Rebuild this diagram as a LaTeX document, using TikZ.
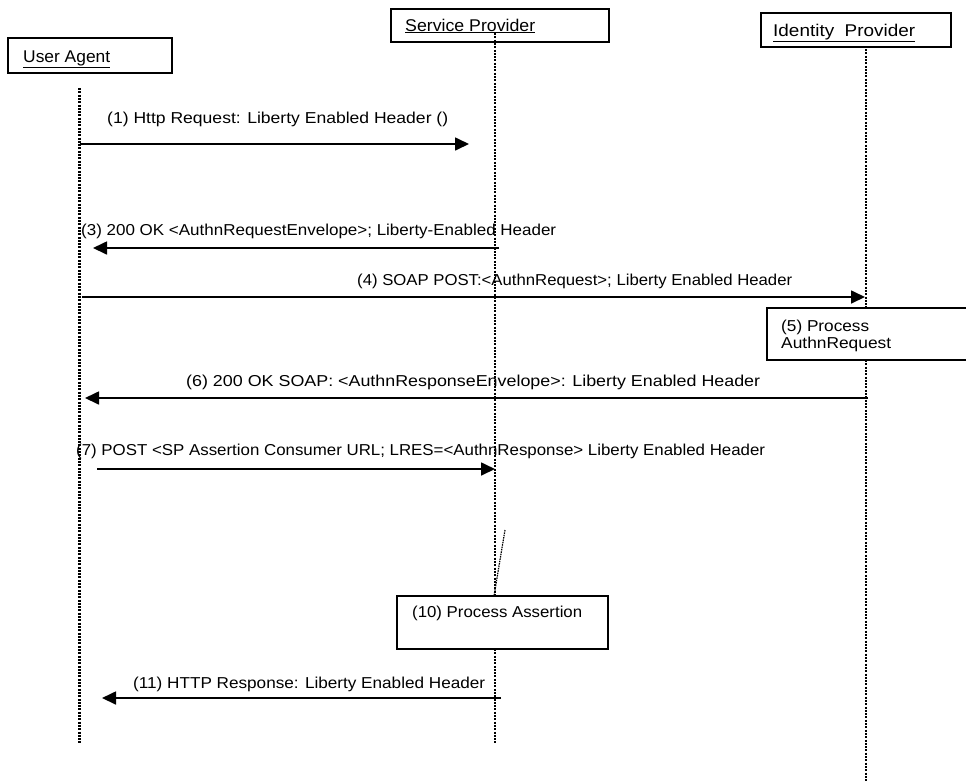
\documentclass[tikz,border=0pt]{standalone}
\usepackage{fontspec}
\usepackage{graphicx}
\setmainfont{Liberation Sans}
\usetikzlibrary{arrows.meta}
\newcommand\fw[2]{\resizebox{#1pt}{\height}{#2}}
\tikzset{
  msg/.style={font=\fontsize{15.8}{17}\selectfont, inner sep=0pt, anchor=base west},
  actor/.style={font=\fontsize{17}{20}\selectfont, inner sep=0pt, anchor=base west},
  boxline/.style={draw=black, line width=1.5pt},
  life/.style={line width=2.1pt, dash pattern=on 2pt off 1.3pt},
  thinlife/.style={line width=1.2pt, dash pattern=on 1.5pt off 0.9pt},
  call/.style={line width=1.7pt, -{Triangle[length=14pt,width=13pt]}}
}
\begin{document}
\begin{tikzpicture}[x=1pt,y=-1pt]
\useasboundingbox (0,0) rectangle (966,780);
% actor boxes
\draw[boxline] (8,38) rectangle (172,73);
\draw[boxline] (391,9) rectangle (609,42);
\draw[boxline] (761,13) rectangle (951,47);
\node[actor] (ua) at (23,62) {\underline{\fw{87}{User Agent}}};
\node[actor] (sp) at (405,31) {\underline{\fw{130}{Service Provider}}};
\node[actor] (idp) at (773,36) {\underline{\fw{142}{Identity\ \ Provider}}};
% activity boxes
\draw[boxline] (767,308) rectangle (967,360);
\node[msg] (p5a) at (781,331) {\fw{88}{(5) Process}};
\node[msg] (p5b) at (781,348) {\fw{110}{AuthnRequest}};
\draw[boxline] (397,596) rectangle (608,649);
\node[msg] (p10) at (412,617) {\fw{170}{(10) Process Assertion}};
% lifelines
\coordinate (uaT) at (79.5,88);
\coordinate (uaB) at (79.5,744);
\coordinate (spT) at (495,33);
\coordinate (spM) at (495,596);
\coordinate (spN) at (495,649);
\coordinate (spB) at (495,744);
\coordinate (idT) at (866,49);
\coordinate (idM) at (866,308);
\coordinate (idN) at (866,360);
\coordinate (idB) at (866,782);
\draw[life] (uaT) -- (uaB);
\draw[life] (spT) -- (spM);
\draw[life] (spN) -- (spB);
\draw[life] (idT) -- (idM);
\draw[life] (idN) -- (idB);
\coordinate (slA) at (505,530);
\coordinate (slB) at (494,596);
\draw[thinlife] (slA) -- (slB);
% messages
\node[msg] (m1) at (107,123) {\fw{341}{(1) Http Request: Liberty Enabled Header ()}};
\coordinate (m1s) at (79.5,144);
\coordinate (m1e) at (469,144);
\draw[call] (m1s) -- (m1e);
\node[msg] (m3) at (81,235) {\fw{475}{(3) 200 OK <AuthnRequestEnvelope>; Liberty-Enabled Header}};
\coordinate (m3s) at (499,248);
\coordinate (m3e) at (93,248);
\draw[call] (m3s) -- (m3e);
\node[msg] (m4) at (357,285) {\fw{435}{(4) SOAP POST:<AuthnRequest>; Liberty Enabled Header}};
\coordinate (m4s) at (82,297);
\coordinate (m4e) at (865,297);
\draw[call] (m4s) -- (m4e);
\node[msg] (m6) at (186,386) {\fw{574}{(6) 200 OK SOAP: <AuthnResponseEnvelope>: Liberty Enabled Header}};
\coordinate (m6s) at (868,398);
\coordinate (m6e) at (85,398);
\draw[call] (m6s) -- (m6e);
\node[msg] (m7) at (76,455) {\fw{689}{(7) POST <SP Assertion Consumer URL; LRES=<AuthnResponse> Liberty Enabled Header}};
\coordinate (m7s) at (97,469);
\coordinate (m7e) at (495,469);
\draw[call] (m7s) -- (m7e);
\node[msg] (m11) at (133,688) {\fw{352}{(11) HTTP Response: Liberty Enabled Header}};
\coordinate (m11s) at (501,698);
\coordinate (m11e) at (102,698);
\draw[call] (m11s) -- (m11e);
\end{tikzpicture}
\end{document}
